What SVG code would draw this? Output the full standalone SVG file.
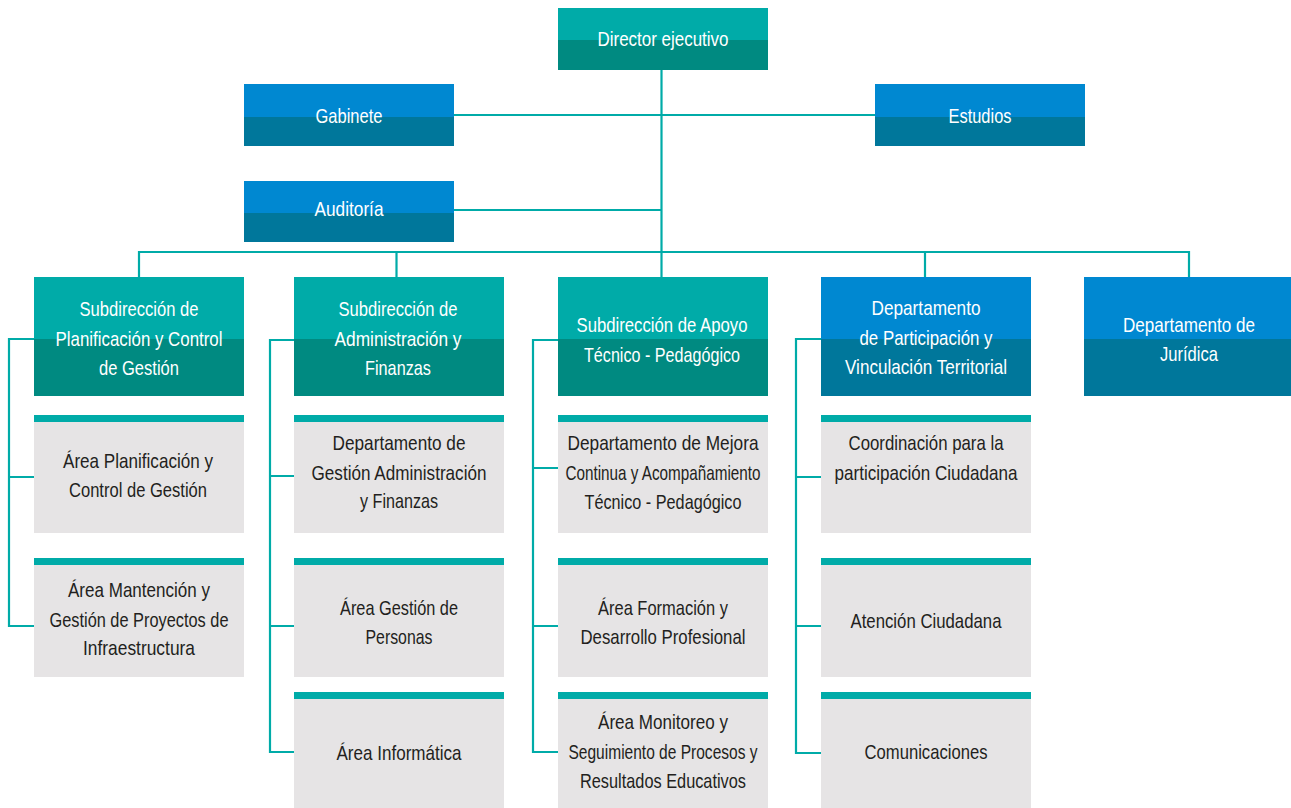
<svg xmlns="http://www.w3.org/2000/svg" width="1291" height="808" viewBox="0 0 1291 808">
<style>
.tt{fill:#00ABA8}.tb{fill:#008A81}
.bt{fill:#0088D1}.bb{fill:#00779B}
.gr{fill:#E6E4E5}.bar{fill:#00ABA8}
.w{font-family:"Liberation Sans",Arial,sans-serif;font-size:21px;fill:#FFFFFF;text-anchor:middle}
.d{font-family:"Liberation Sans",Arial,sans-serif;font-size:21px;fill:#231F20;text-anchor:middle}
.c{stroke:#00ABA8;stroke-width:2.2;fill:none}
</style>
<rect width="1291" height="808" fill="#FFFFFF"/>
<g id="connectors">
<path class="c" d="M661.5 70V277"/>
<path class="c" d="M454 115H875"/>
<path class="c" d="M454 210H661.5"/>
<path class="c" d="M139 252H1189M139 251V277M396.5 251V277M925 251V277M1189 251V277"/>
<path class="c" d="M34 339H9V626H34M9 477H34"/>
<path class="c" d="M294 340H270V752H294M270 476H294M270 626H294"/>
<path class="c" d="M558 340H533V752H558M533 468H558M533 626H558"/>
<path class="c" d="M821 339H796V753H821M796 477H821M796 626H821"/>
</g>
<g id="director">
<rect class="tt" x="558" y="8" width="210" height="32"/><rect class="tb" x="558" y="40" width="210" height="30"/>
<text class="w" x="663" y="46" textLength="131" lengthAdjust="spacingAndGlyphs">Director ejecutivo</text>
</g>
<g id="gabinete">
<rect class="bt" x="244" y="84" width="210" height="33"/><rect class="bb" x="244" y="117" width="210" height="29"/>
<text class="w" x="349" y="123" textLength="67" lengthAdjust="spacingAndGlyphs">Gabinete</text>
</g>
<g id="estudios">
<rect class="bt" x="875" y="84" width="210" height="33"/><rect class="bb" x="875" y="117" width="210" height="29"/>
<text class="w" x="980" y="123" textLength="63" lengthAdjust="spacingAndGlyphs">Estudios</text>
</g>
<g id="auditoria">
<rect class="bt" x="244" y="181" width="210" height="32"/><rect class="bb" x="244" y="213" width="210" height="29"/>
<text class="w" x="349" y="216" textLength="69" lengthAdjust="spacingAndGlyphs">Auditoría</text>
</g>
<g id="sub-planificacion">
<rect class="tt" x="34" y="277" width="210" height="62"/><rect class="tb" x="34" y="339" width="210" height="57"/>
<text class="w" x="139" y="316" textLength="119" lengthAdjust="spacingAndGlyphs">Subdirección de</text>
<text class="w" x="139" y="346" textLength="167" lengthAdjust="spacingAndGlyphs">Planificación y Control</text>
<text class="w" x="139" y="375" textLength="80" lengthAdjust="spacingAndGlyphs">de Gestión</text>
</g>
<g id="sub-administracion">
<rect class="tt" x="294" y="277" width="210" height="62"/><rect class="tb" x="294" y="339" width="210" height="57"/>
<text class="w" x="398" y="316" textLength="119" lengthAdjust="spacingAndGlyphs">Subdirección de</text>
<text class="w" x="398" y="346" textLength="127" lengthAdjust="spacingAndGlyphs">Administración y</text>
<text class="w" x="398" y="375" textLength="66" lengthAdjust="spacingAndGlyphs">Finanzas</text>
</g>
<g id="sub-apoyo">
<rect class="tt" x="558" y="277" width="210" height="62"/><rect class="tb" x="558" y="339" width="210" height="57"/>
<text class="w" x="662" y="332" textLength="171" lengthAdjust="spacingAndGlyphs">Subdirección de Apoyo</text>
<text class="w" x="662" y="362" textLength="156" lengthAdjust="spacingAndGlyphs">Técnico - Pedagógico</text>
</g>
<g id="dep-participacion">
<rect class="bt" x="821" y="277" width="210" height="62"/><rect class="bb" x="821" y="339" width="210" height="57"/>
<text class="w" x="926" y="315" textLength="109" lengthAdjust="spacingAndGlyphs">Departamento</text>
<text class="w" x="926" y="345" textLength="133" lengthAdjust="spacingAndGlyphs">de Participación y</text>
<text class="w" x="926" y="374" textLength="162" lengthAdjust="spacingAndGlyphs">Vinculación Territorial</text>
</g>
<g id="dep-juridica">
<rect class="bt" x="1084" y="277" width="207" height="62"/><rect class="bb" x="1084" y="339" width="207" height="57"/>
<text class="w" x="1189" y="332" textLength="132" lengthAdjust="spacingAndGlyphs">Departamento de</text>
<text class="w" x="1189" y="361" textLength="58" lengthAdjust="spacingAndGlyphs">Jurídica</text>
</g>
<g id="area-planificacion">
<rect class="gr" x="34" y="415" width="210" height="118"/><rect class="bar" x="34" y="415" width="210" height="7"/>
<text class="d" x="138" y="468" textLength="150" lengthAdjust="spacingAndGlyphs">Área Planificación y</text>
<text class="d" x="138" y="497" textLength="138" lengthAdjust="spacingAndGlyphs">Control de Gestión</text>
</g>
<g id="area-mantencion">
<rect class="gr" x="34" y="558" width="210" height="119"/><rect class="bar" x="34" y="558" width="210" height="7"/>
<text class="d" x="139" y="597" textLength="142" lengthAdjust="spacingAndGlyphs">Área Mantención y</text>
<text class="d" x="139" y="627" textLength="179" lengthAdjust="spacingAndGlyphs">Gestión de Proyectos de</text>
<text class="d" x="139" y="655" textLength="112" lengthAdjust="spacingAndGlyphs">Infraestructura</text>
</g>
<g id="dep-gestion-admin">
<rect class="gr" x="294" y="415" width="210" height="118"/><rect class="bar" x="294" y="415" width="210" height="7"/>
<text class="d" x="399" y="450" textLength="133" lengthAdjust="spacingAndGlyphs">Departamento de</text>
<text class="d" x="399" y="480" textLength="175" lengthAdjust="spacingAndGlyphs">Gestión Administración</text>
<text class="d" x="399" y="508" textLength="78" lengthAdjust="spacingAndGlyphs">y Finanzas</text>
</g>
<g id="area-personas">
<rect class="gr" x="294" y="558" width="210" height="119"/><rect class="bar" x="294" y="558" width="210" height="7"/>
<text class="d" x="399" y="615" textLength="118" lengthAdjust="spacingAndGlyphs">Área Gestión de</text>
<text class="d" x="399" y="644" textLength="67" lengthAdjust="spacingAndGlyphs">Personas</text>
</g>
<g id="area-informatica">
<rect class="gr" x="294" y="692" width="210" height="116"/><rect class="bar" x="294" y="692" width="210" height="7"/>
<text class="d" x="399" y="760" textLength="125" lengthAdjust="spacingAndGlyphs">Área Informática</text>
</g>
<g id="dep-mejora">
<rect class="gr" x="558" y="415" width="210" height="118"/><rect class="bar" x="558" y="415" width="210" height="7"/>
<text class="d" x="663" y="450" textLength="191" lengthAdjust="spacingAndGlyphs">Departamento de Mejora</text>
<text class="d" x="663" y="480" textLength="195" lengthAdjust="spacingAndGlyphs">Continua y Acompañamiento</text>
<text class="d" x="663" y="509" textLength="157" lengthAdjust="spacingAndGlyphs">Técnico - Pedagógico</text>
</g>
<g id="area-formacion">
<rect class="gr" x="558" y="558" width="210" height="119"/><rect class="bar" x="558" y="558" width="210" height="7"/>
<text class="d" x="663" y="615" textLength="130" lengthAdjust="spacingAndGlyphs">Área Formación y</text>
<text class="d" x="663" y="644" textLength="165" lengthAdjust="spacingAndGlyphs">Desarrollo Profesional</text>
</g>
<g id="area-monitoreo">
<rect class="gr" x="558" y="692" width="210" height="116"/><rect class="bar" x="558" y="692" width="210" height="7"/>
<text class="d" x="663" y="729" textLength="130" lengthAdjust="spacingAndGlyphs">Área Monitoreo y</text>
<text class="d" x="663" y="759" textLength="189" lengthAdjust="spacingAndGlyphs">Seguimiento de Procesos y</text>
<text class="d" x="663" y="788" textLength="166" lengthAdjust="spacingAndGlyphs">Resultados Educativos</text>
</g>
<g id="coordinacion">
<rect class="gr" x="821" y="415" width="210" height="118"/><rect class="bar" x="821" y="415" width="210" height="7"/>
<text class="d" x="926" y="450" textLength="155" lengthAdjust="spacingAndGlyphs">Coordinación para la</text>
<text class="d" x="926" y="480" textLength="183" lengthAdjust="spacingAndGlyphs">participación Ciudadana</text>
</g>
<g id="atencion">
<rect class="gr" x="821" y="558" width="210" height="119"/><rect class="bar" x="821" y="558" width="210" height="7"/>
<text class="d" x="926" y="628" textLength="151" lengthAdjust="spacingAndGlyphs">Atención Ciudadana</text>
</g>
<g id="comunicaciones">
<rect class="gr" x="821" y="692" width="210" height="116"/><rect class="bar" x="821" y="692" width="210" height="7"/>
<text class="d" x="926" y="759" textLength="123" lengthAdjust="spacingAndGlyphs">Comunicaciones</text>
</g>
</svg>
